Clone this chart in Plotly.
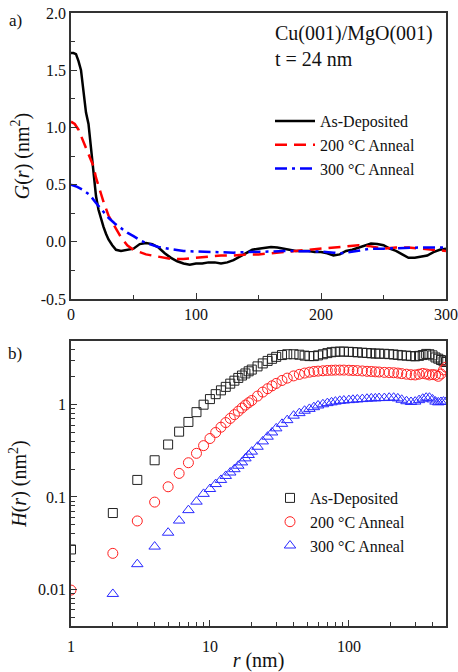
import plotly.graph_objects as go

# ---------------- Panel a) G(r) ----------------
r_as = [0, 2, 4, 6, 8, 10, 12, 14, 16, 18, 20, 22, 24, 26, 28, 30, 33, 36, 40, 45, 50, 55, 60, 65, 70,
        75, 80, 85, 90, 95, 100, 105, 110, 115, 120, 125, 130, 135, 140, 145, 150, 155, 160, 165, 170,
        175, 180, 185, 190, 195, 200, 205, 210, 215, 220, 225, 230, 235, 240, 245, 250, 255, 260, 265,
        270, 275, 280, 285, 290, 295, 300]
g_as = [1.65, 1.65, 1.64, 1.58, 1.50, 1.32, 1.13, 1.03, 0.82, 0.62, 0.40, 0.28, 0.20, 0.13, 0.07, 0.02,
        -0.03, -0.07, -0.08, -0.07, -0.06, -0.02, -0.01, -0.02, -0.05, -0.10, -0.14, -0.17, -0.19, -0.20,
        -0.19, -0.19, -0.18, -0.18, -0.19, -0.18, -0.16, -0.13, -0.10, -0.07, -0.06, -0.05, -0.045, -0.05,
        -0.06, -0.07, -0.08, -0.08, -0.08, -0.09, -0.09, -0.10, -0.12, -0.11, -0.08, -0.07, -0.05, -0.03,
        -0.015, -0.02, -0.03, -0.06, -0.08, -0.11, -0.14, -0.14, -0.13, -0.12, -0.09, -0.07, -0.06]

r_200 = [0, 3, 6, 9, 12, 15, 18, 20, 22, 24, 26, 28, 30, 33, 36, 40, 45, 50, 55, 60, 65, 70, 80, 90,
         100, 110, 120, 130, 140, 150, 160, 170, 180, 190, 200, 210, 220, 230, 240, 250, 260, 270, 280,
         290, 300]
g_200 = [1.05, 1.03, 0.98, 0.90, 0.82, 0.74, 0.66, 0.56, 0.48, 0.42, 0.35, 0.28, 0.23, 0.17, 0.11, 0.04,
         -0.03, -0.07, -0.09, -0.11, -0.12, -0.13, -0.15, -0.15, -0.14, -0.13, -0.12, -0.12, -0.11, -0.11,
         -0.10, -0.09, -0.08, -0.07, -0.06, -0.05, -0.04, -0.03, -0.04, -0.06, -0.05, -0.05, -0.06, -0.07,
         -0.08]

r_300 = [0, 5, 10, 15, 20, 25, 30, 35, 40, 45, 50, 55, 60, 65, 70, 80, 90, 100, 110, 120, 130, 140, 150,
         160, 170, 180, 190, 200, 210, 215, 220, 230, 240, 250, 260, 270, 280, 290, 300]
g_300 = [0.50, 0.48, 0.45, 0.41, 0.34, 0.27, 0.21, 0.16, 0.12, 0.08, 0.05, 0.015, -0.01, -0.03, -0.045,
         -0.065, -0.08, -0.085, -0.09, -0.095, -0.095, -0.09, -0.09, -0.085, -0.08, -0.08, -0.08, -0.085,
         -0.095, -0.10, -0.095, -0.075, -0.06, -0.06, -0.055, -0.05, -0.05, -0.05, -0.05]

# ---------------- Panel b) H(r) ----------------
r_h = list(range(1, 21)) + [22, 24, 26, 28, 30, 33, 36, 40, 44, 48, 52, 56, 60, 65, 70, 75, 80, 86, 92,
                            100, 107, 115, 125, 135, 145, 155, 165, 180, 195, 210, 225, 240, 260, 280,
                            300, 320, 340, 360, 380, 400, 420, 440, 460, 480, 500]
h_as = [0.027, 0.067, 0.153, 0.25, 0.37, 0.51, 0.65, 0.83, 1.0, 1.15, 1.30, 1.43, 1.56, 1.69, 1.82, 1.95,
        2.07, 2.18, 2.30, 2.40, 2.60, 2.80, 2.98, 3.14, 3.30, 3.45, 3.52, 3.52, 3.48, 3.40, 3.36, 3.36,
        3.42, 3.52, 3.62, 3.70, 3.74, 3.76, 3.76, 3.74, 3.72, 3.69, 3.66, 3.63, 3.60, 3.58, 3.57, 3.56,
        3.53, 3.50, 3.46, 3.42, 3.40, 3.36, 3.34, 3.38, 3.45, 3.55, 3.52, 3.42, 3.25, 3.15, 3.05, 2.95,
        2.90]
h_200 = [0.0098, 0.0245, 0.055, 0.088, 0.129, 0.18, 0.235, 0.297, 0.36, 0.43, 0.50, 0.57, 0.64, 0.71,
         0.78, 0.85, 0.92, 0.99, 1.05, 1.11, 1.24, 1.37, 1.49, 1.60, 1.70, 1.83, 1.94, 2.05, 2.13, 2.20,
         2.25, 2.29, 2.31, 2.33, 2.35, 2.36, 2.37, 2.37, 2.37, 2.36, 2.35, 2.34, 2.32, 2.30, 2.29, 2.27,
         2.26, 2.24, 2.23, 2.22, 2.20, 2.17, 2.14, 2.11, 2.10, 2.14, 2.18, 2.15, 2.10, 2.12, 2.10, 2.03,
         2.15, 2.38, 2.55]
h_300 = [None, 0.0089, 0.0187, 0.029, 0.041, 0.0555, 0.072, 0.089, 0.108, 0.122, 0.138, 0.153, 0.169,
         0.184, 0.20, 0.218, 0.237, 0.262, 0.285, 0.31, 0.35, 0.40, 0.45, 0.50, 0.554, 0.62, 0.68, 0.76,
         0.81, 0.86, 0.90, 0.94, 0.98, 1.01, 1.04, 1.06, 1.08, 1.10, 1.11, 1.12, 1.13, 1.14, 1.15, 1.16,
         1.17, 1.17, 1.18, 1.18, 1.19, 1.19, 1.17, 1.13, 1.09, 1.07, 1.08, 1.12, 1.16, 1.19, 1.19, 1.14,
         1.08, 1.06, 1.07, 1.08, 1.07]

series_names = ["As-Deposited", "200 °C Anneal", "300 °C Anneal"]
g_ticks = [-0.5, 0.0, 0.5, 1.0, 1.5, 2.0]
g_ticktext = ["-0.5", "0.0", "0.5", "1.0", "1.5", "2.0"]
h_ticks = [0.01, 0.1, 1]
h_ticktext = ["0.01", "0.1", "1"]
r_ticks = [1, 10, 100]
r_ticktext = ["1", "10", "100"]

FONT = "Liberation Serif"
W, H = 458, 672

def px_x(p):
    return p / W

def px_y(p):
    return (H - p) / H

fig = go.Figure()

# top panel lines
fig.add_trace(go.Scatter(x=r_as, y=g_as, mode="lines", name=series_names[0],
                         line=dict(color="black", width=2.5), xaxis="x", yaxis="y", legend="legend"))
fig.add_trace(go.Scatter(x=r_200, y=g_200, mode="lines", name=series_names[1],
                         line=dict(color="#ff0000", width=2.5, dash="12px,7px"), xaxis="x", yaxis="y",
                         legend="legend"))
fig.add_trace(go.Scatter(x=r_300, y=g_300, mode="lines", name=series_names[2],
                         line=dict(color="#0000ff", width=2.5, dash="12px,5px,3px,5px"), xaxis="x",
                         yaxis="y", legend="legend"))

# bottom panel markers
fig.add_trace(go.Scatter(x=r_h, y=h_as, mode="markers", name=series_names[0],
                         marker=dict(symbol="square-open", size=9, color="#222222", line=dict(width=1)),
                         xaxis="x2", yaxis="y2", legend="legend2"))
fig.add_trace(go.Scatter(x=r_h, y=h_200, mode="markers", name=series_names[1],
                         marker=dict(symbol="circle-open", size=10, color="#ff2020", line=dict(width=1)),
                         xaxis="x2", yaxis="y2", legend="legend2"))
fig.add_trace(go.Scatter(x=r_h, y=h_300, mode="markers", name=series_names[2],
                         marker=dict(symbol="triangle-up-open", size=10, color="#2a2aff", line=dict(width=1)),
                         xaxis="x2", yaxis="y2", legend="legend2"))

axis_common = dict(showline=True, linecolor="#333333", linewidth=1.5, mirror=True, showgrid=False,
                   zeroline=False, ticks="inside", ticklen=6, tickwidth=1.2, tickcolor="#333333",
                   automargin=False,
                   tickfont=dict(family=FONT, size=16, color="#111111"))

xdom = [px_x(71), px_x(446)]
minor_r = [2, 3, 4, 5, 6, 7, 8, 9, 20, 30, 40, 50, 60, 70, 80, 90, 200, 300, 400]
minor_h = [0.005, 0.006, 0.007, 0.008, 0.009, 0.02, 0.03, 0.04, 0.05, 0.06, 0.07, 0.08, 0.09,
           0.2, 0.3, 0.4, 0.5, 0.6, 0.7, 0.8, 0.9, 2, 3, 4]

fig.update_layout(
    width=W, height=H,
    margin=dict(l=0, r=0, t=0, b=0),
    paper_bgcolor="white", plot_bgcolor="white",
    font=dict(family=FONT, size=16, color="#111111"),
    xaxis=dict(axis_common, domain=xdom, range=[0, 300], anchor="y",
               tickmode="array", tickvals=[0, 100, 200, 300],
               minor=dict(tickvals=[50, 150, 250], ticks="inside", ticklen=4, tickcolor="#333333")),
    yaxis=dict(axis_common, domain=[px_y(299), px_y(13)], range=[-0.5, 2.0], anchor="x",
               tickmode="array", tickvals=g_ticks, ticktext=g_ticktext,
               minor=dict(tickvals=[-0.25, 0.25, 0.75, 1.25, 1.75], ticks="inside", ticklen=4,
                          tickcolor="#333333"),
               title=dict(text="<i>G</i>(<i>r</i>) (nm<sup>2</sup>)", font=dict(family=FONT, size=20),
                          standoff=6)),
    xaxis2=dict(axis_common, domain=xdom, type="log", range=[0, 2.699], anchor="y2",
                tickmode="array", tickvals=r_ticks, ticktext=r_ticktext, ticklabelstandoff=5,
                minor=dict(tickvals=minor_r, ticks="inside", ticklen=4, tickcolor="#333333"),
                title=dict(text="<i>r</i> (nm)", font=dict(family=FONT, size=20), standoff=5)),
    yaxis2=dict(axis_common, domain=[px_y(626), px_y(341)], type="log", range=[-2.398, 0.69],
                anchor="x2", tickmode="array", tickvals=h_ticks, ticktext=h_ticktext,
                minor=dict(tickvals=minor_h, ticks="inside", ticklen=4, tickcolor="#333333"),
                title=dict(text="<i>H</i>(<i>r</i>) (nm<sup>2</sup>)", font=dict(family=FONT, size=20),
                           standoff=6)),
    legend=dict(x=px_x(270), y=px_y(104), xanchor="left", yanchor="top", bgcolor="rgba(0,0,0,0)",
                font=dict(family=FONT, size=16, color="#111111"), itemwidth=40,
                tracegroupgap=0),
    legend2=dict(x=px_x(270), y=px_y(481), xanchor="left", yanchor="top", bgcolor="rgba(0,0,0,0)",
                 font=dict(family=FONT, size=16, color="#111111")),
    showlegend=True,
    annotations=[
        dict(text="a)", x=px_x(15), y=px_y(20), xref="paper", yref="paper", showarrow=False,
             xanchor="center", yanchor="middle", font=dict(family=FONT, size=17, color="#111111")),
        dict(text="b)", x=px_x(15), y=px_y(353), xref="paper", yref="paper", showarrow=False,
             xanchor="center", yanchor="middle", font=dict(family=FONT, size=17, color="#111111")),
        dict(text="Cu(001)/MgO(001)<br>t = 24 nm", x=px_x(273), y=px_y(46), xref="paper", yref="paper",
             showarrow=False, xanchor="left", yanchor="middle", align="left",
             font=dict(family=FONT, size=20, color="#111111")),
    ],
)

fig.write_html("out.html")
